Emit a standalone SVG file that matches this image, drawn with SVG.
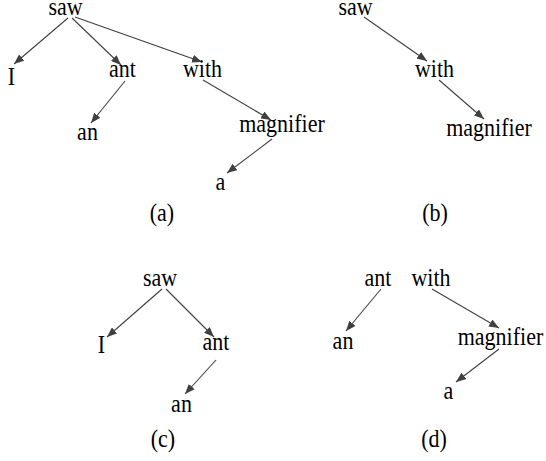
<svg xmlns="http://www.w3.org/2000/svg" width="546" height="461" viewBox="0 0 546 461">
<defs>
<style>
text{font-family:"Liberation Serif","Times New Roman",serif;font-size:22px;fill:#000;text-anchor:middle}
.e{stroke:#404040;stroke-width:1.1;fill:none;marker-end:url(#ah)}
</style>
<marker id="ah" markerUnits="userSpaceOnUse" markerWidth="10" markerHeight="8" refX="10" refY="4" orient="auto">
<path d="M0,0 L10,4 L0,8 z" fill="#404040"/>
</marker>
</defs>
<rect width="546" height="461" fill="#fff"/>
<g id="connectors">
<line class="e" x1="68" y1="18" x2="14" y2="64"/>
<line class="e" x1="72" y1="18" x2="121" y2="65"/>
<line class="e" x1="75" y1="17" x2="202" y2="62"/>
<line class="e" x1="125" y1="81" x2="91" y2="123"/>
<line class="e" x1="203" y1="80" x2="271" y2="120"/>
<line class="e" x1="272" y1="139" x2="227" y2="173"/>
<line class="e" x1="364" y1="17" x2="427" y2="61"/>
<line class="e" x1="439" y1="80" x2="484" y2="119"/>
<line class="e" x1="162" y1="289" x2="107" y2="337"/>
<line class="e" x1="166" y1="289" x2="214" y2="337"/>
<line class="e" x1="216" y1="360" x2="185" y2="394"/>
<line class="e" x1="381" y1="289" x2="346" y2="331"/>
<line class="e" x1="432" y1="289" x2="499" y2="328"/>
<line class="e" x1="499" y1="349" x2="456" y2="382"/>
</g>
<g id="a-saw"><text transform="translate(65.5,14.5) scale(1,1.1)">saw</text></g>
<g id="a-I"><text transform="translate(11.5,85) scale(1,1.1)">I</text></g>
<g id="a-ant"><text transform="translate(122.5,77) scale(1,1.1)">ant</text></g>
<g id="a-with"><text transform="translate(202.5,77) scale(1,1.1)">with</text></g>
<g id="a-an"><text transform="translate(87.5,140) scale(1,1.1)">an</text></g>
<g id="a-magnifier"><text transform="translate(282,132) scale(1,1.1)">magnifier</text></g>
<g id="a-a"><text transform="translate(220.5,190) scale(1,1.1)">a</text></g>
<g id="a-label"><text transform="translate(162,221) scale(1,1.1)">(a)</text></g>
<g id="b-saw"><text transform="translate(355.5,14.5) scale(1,1.1)">saw</text></g>
<g id="b-with"><text transform="translate(434.5,77) scale(1,1.1)">with</text></g>
<g id="b-magnifier"><text transform="translate(489,136) scale(1,1.1)">magnifier</text></g>
<g id="b-label"><text transform="translate(435,221) scale(1,1.1)">(b)</text></g>
<g id="c-saw"><text transform="translate(160,286) scale(1,1.1)">saw</text></g>
<g id="c-I"><text transform="translate(101.5,353) scale(1,1.1)">I</text></g>
<g id="c-ant"><text transform="translate(216,350) scale(1,1.1)">ant</text></g>
<g id="c-an"><text transform="translate(181.5,412) scale(1,1.1)">an</text></g>
<g id="c-label"><text transform="translate(163,447) scale(1,1.1)">(c)</text></g>
<g id="d-ant"><text transform="translate(378,286) scale(1,1.1)">ant</text></g>
<g id="d-with"><text transform="translate(431,286) scale(1,1.1)">with</text></g>
<g id="d-an"><text transform="translate(343,349) scale(1,1.1)">an</text></g>
<g id="d-magnifier"><text transform="translate(500.5,345) scale(1,1.1)">magnifier</text></g>
<g id="d-a"><text transform="translate(448.5,399) scale(1,1.1)">a</text></g>
<g id="d-label"><text transform="translate(434,447) scale(1,1.1)">(d)</text></g>
</svg>
